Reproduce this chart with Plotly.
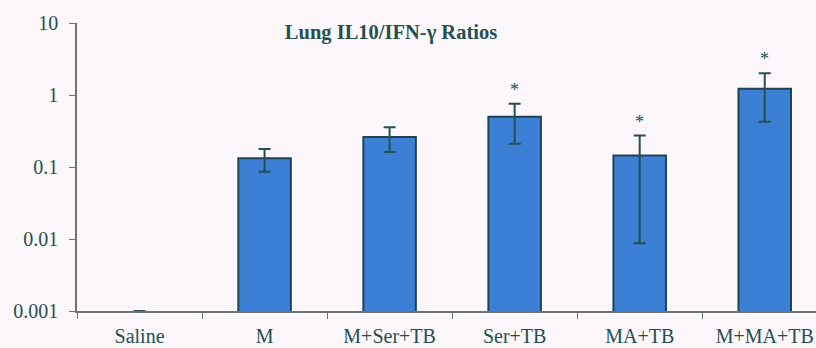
import numpy as np
import plotly.graph_objects as go

groups = ["Saline", "M", "M+Ser+TB", "Ser+TB", "MA+TB", "M+MA+TB"]
ratio = [0.001, 0.132, 0.262, 0.498, 0.145, 1.22]
err_high = [0.001, 0.178, 0.356, 0.757, 0.273, 2.0]
err_low = [0.001, 0.086, 0.162, 0.211, 0.0087, 0.425]
significant = [False, False, False, True, True, True]
y_ticks = [0.001, 0.01, 0.1, 1, 10]
y_tick_text = ["0.001", "0.01", "0.1", "1", "10"]

serif = "Liberation Serif, Times New Roman, DejaVu Serif, serif"
ink = "#24504f"
bar_fill = "#3b80d5"
bar_edge = "#1f4350"
paper = "#fcf7fa"
axis_col = "#6b7373"

upper = [h - v for h, v in zip(err_high, ratio)]
lower = [v - l for v, l in zip(ratio, err_low)]
# a zero-height bar gets no outline; only its error cap shows
edge_w = [0 if v <= 0.001 else 2 for v in ratio]

fig = go.Figure()
fig.add_trace(go.Bar(
    x=groups,
    y=ratio,
    width=0.42,
    marker=dict(color=bar_fill, line=dict(color=bar_edge, width=edge_w)),
    error_y=dict(type="data", symmetric=False, array=upper, arrayminus=lower,
                 color=ink, thickness=2, width=6),
))

# asterisks for significant groups, placed above the upper error bar
for g, hi, sig in zip(groups, err_high, significant):
    if sig:
        fig.add_annotation(x=g, y=np.log10(hi), text="*", showarrow=False,
                           yanchor="bottom", yshift=2,
                           font=dict(family=serif, size=18, color=ink))

fig.update_layout(
    width=816, height=348,
    margin=dict(l=77, r=0, t=23, b=37),
    paper_bgcolor=paper, plot_bgcolor=paper,
    showlegend=False,
    title=dict(text="<b>Lung IL10/IFN-γ Ratios</b>", x=391 / 816, xanchor="center",
               y=1 - 32 / 348, yanchor="middle",
               font=dict(family=serif, size=20.5, color=ink)),
    font=dict(family=serif, size=20, color=ink),
)
fig.update_xaxes(
    type="category", range=[-0.5, 5.41], automargin=False,
    showline=True, linecolor=axis_col, linewidth=1.5,
    ticks="outside", tickson="boundaries", ticklen=6, tickcolor=axis_col,
    ticklabelstandoff=6,
    showgrid=False, zeroline=False,
    tickfont=dict(family=serif, size=20, color=ink),
)
fig.update_yaxes(
    type="log", range=[-3, 1], automargin=False,
    tickvals=y_ticks, ticktext=y_tick_text,
    showline=True, linecolor=axis_col, linewidth=1.5,
    ticks="outside", ticklen=6, tickcolor=axis_col,
    ticklabelstandoff=7,
    showgrid=False, zeroline=False,
    tickfont=dict(family=serif, size=20, color=ink),
)

fig.write_html("out.html")
